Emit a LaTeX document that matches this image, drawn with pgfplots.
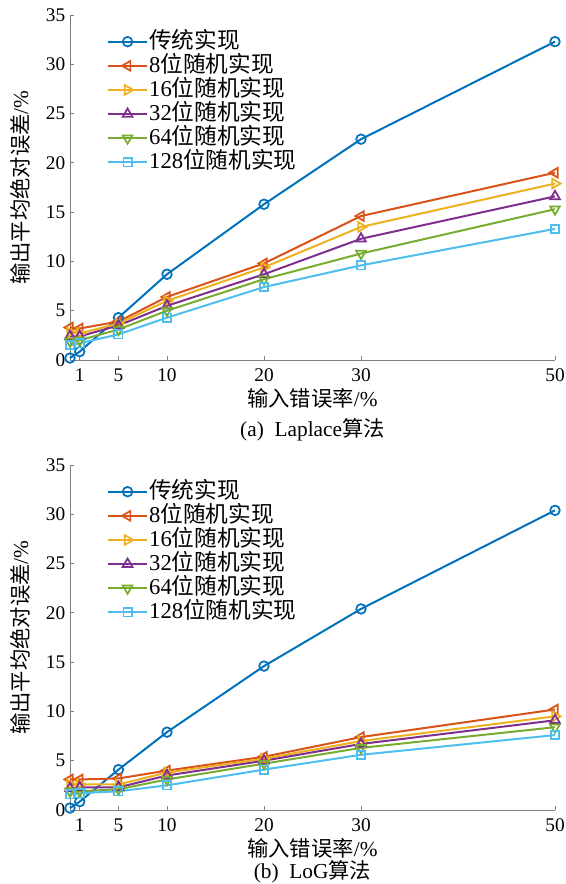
\documentclass[border=0pt]{standalone}
\usepackage{fontspec}
\setmainfont{Liberation Serif}
\newfontfamily\cjk{Noto Sans CJK SC}
\usepackage{pgfplots}
\pgfplotsset{compat=1.18}
\definecolor{c1}{rgb}{0,0.447,0.741}
\definecolor{c2}{rgb}{0.850,0.325,0.098}
\definecolor{c3}{rgb}{0.929,0.694,0.125}
\definecolor{c4}{rgb}{0.494,0.184,0.556}
\definecolor{c5}{rgb}{0.466,0.674,0.188}
\definecolor{c6}{rgb}{0.301,0.745,0.933}
\pgfplotsset{
  myax/.style={
    width=363.75pt, height=258.75pt, scale only axis,
    xmin=0, xmax=50, ymin=0, ymax=35,
    xtick={1,5,10,20,30,50}, ytick={0,5,...,35},
    axis lines=left, axis line style={gray, -, line width=0.6pt},
    tick style={gray, line width=0.6pt}, tick align=inside, major tick length=3pt,
    clip=false,
    font=\fontsize{16}{18}\selectfont,
    tick label style={font=\fontsize{14.5}{16}\selectfont},
    /pgf/number format/assume math mode=true,
    xticklabel style={yshift=-3pt},
    xlabel={{\cjk 输入错误率}/\%},
    xlabel style={at={(axis description cs:0.5,-0.11)}, anchor=center},
    ylabel={{\cjk 输出平均绝对误差}/\%},
    ylabel style={at={(axis description cs:-0.103,0.5)}, anchor=center},
    legend style={draw=none, fill=none, at={(rel axis cs:0.068,0.965)}, anchor=north west,
      font=\fontsize{17}{19}\selectfont, row sep=0.6pt,
      nodes={inner sep=1pt, text height=12.5pt, text depth=3pt}},
    legend cell align=left,
    legend image code/.code={\draw[mark repeat=2,mark phase=2] plot coordinates {(0pt,0pt)(14.5pt,0pt)(29pt,0pt)};},
    every axis plot/.append style={line width=1.5pt},
  },
  mk/.style={every mark/.append style={solid, fill=white, line width=1.3pt}},
  s1/.style={c1, mk, mark=o, mark size=3.6pt},
  s2/.style={c2, mk, mark=triangle, mark size=4.2pt, every mark/.append style={rotate=90}},
  s3/.style={c3, mk, mark=triangle, mark size=4.2pt, every mark/.append style={rotate=-90}},
  s4/.style={c4, mk, mark=triangle, mark size=4.2pt},
  s5/.style={c5, mk, mark=triangle, mark size=4.2pt, every mark/.append style={rotate=180}},
  s6/.style={c6, mk, mark=square, mark size=3.1pt},
}
\begin{document}
\begin{tikzpicture}
\begin{axis}[myax, at={(0pt,0pt)}, anchor=south west]
\addplot[s1] coordinates {(0,0.2)(1,0.85)(5,4.3)(10,8.7)(20,15.8)(30,22.4)(50,32.3)};
\addplot[s2] coordinates {(0,3.3)(1,3.2)(5,3.9)(10,6.4)(20,9.8)(30,14.6)(50,19.0)};
\addplot[s3] coordinates {(0,2.8)(1,2.7)(5,3.7)(10,6.0)(20,9.4)(30,13.5)(50,17.9)};
\addplot[s4] coordinates {(0,2.4)(1,2.4)(5,3.5)(10,5.5)(20,8.7)(30,12.3)(50,16.6)};
\addplot[s5] coordinates {(0,1.9)(1,2.0)(5,3.1)(10,5.0)(20,8.2)(30,10.8)(50,15.3)};
\addplot[s6] coordinates {(0,1.5)(1,1.7)(5,2.6)(10,4.3)(20,7.4)(30,9.6)(50,13.3)};
\legend{{\cjk 传统实现},8{\cjk 位随机实现},16{\cjk 位随机实现},32{\cjk 位随机实现},64{\cjk 位随机实现},128{\cjk 位随机实现}}
\node[font=\fontsize{16}{18}\selectfont] at (axis description cs:0.5,-0.203) {(a)\ \ Laplace{\cjk 算法}};
\end{axis}
\begin{axis}[myax, at={(0pt,-337.5pt)}, anchor=south west]
\addplot[s1] coordinates {(0,0.2)(1,0.85)(5,4.1)(10,7.9)(20,14.6)(30,20.4)(50,30.4)};
\addplot[s2] coordinates {(0,3.1)(1,3.1)(5,3.2)(10,4.0)(20,5.4)(30,7.4)(50,10.2)};
\addplot[s3] coordinates {(0,2.6)(1,2.6)(5,2.6)(10,3.8)(20,5.2)(30,7.0)(50,9.5)};
\addplot[s4] coordinates {(0,2.2)(1,2.3)(5,2.3)(10,3.5)(20,5.0)(30,6.7)(50,9.1)};
\addplot[s5] coordinates {(0,1.9)(1,1.9)(5,2.1)(10,3.1)(20,4.7)(30,6.3)(50,8.4)};
\addplot[s6] coordinates {(0,1.6)(1,1.7)(5,1.9)(10,2.5)(20,4.1)(30,5.6)(50,7.6)};
\legend{{\cjk 传统实现},8{\cjk 位随机实现},16{\cjk 位随机实现},32{\cjk 位随机实现},64{\cjk 位随机实现},128{\cjk 位随机实现}}
\node[font=\fontsize{16}{18}\selectfont] at (axis description cs:0.5,-0.18) {(b)\ \ LoG{\cjk 算法}};
\end{axis}
\pgfresetboundingbox
\path[use as bounding box] (-52.5pt,-393pt) rectangle (372pt,270pt);
\end{tikzpicture}
\end{document}
